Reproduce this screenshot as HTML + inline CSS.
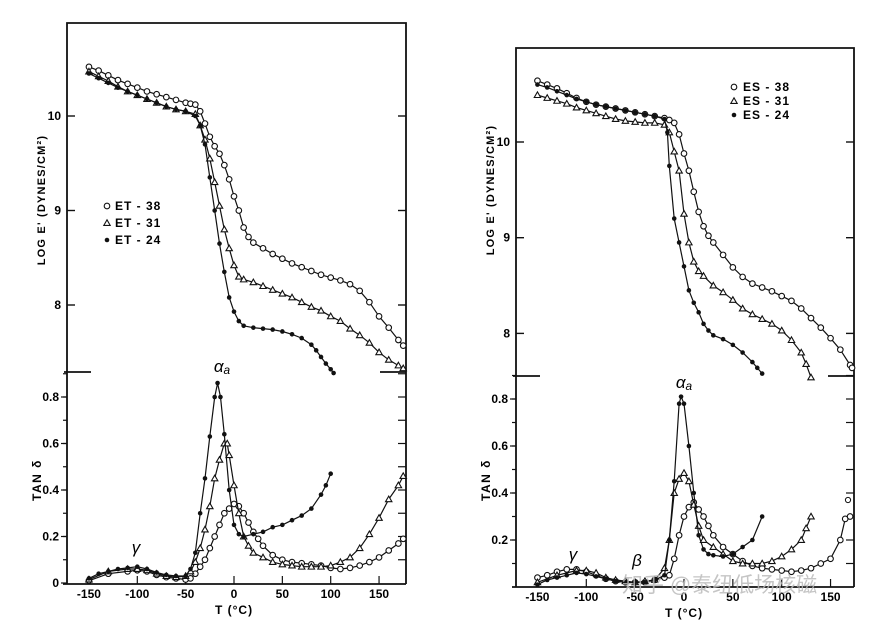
<!DOCTYPE html>
<html><head><meta charset="utf-8"><style>
body{margin:0;background:#fff;}
svg{display:block;font-family:"Liberation Sans","Noto Sans CJK SC",sans-serif;}
</style></head><body>
<svg id="fig" width="880" height="621" viewBox="0 0 880 621" xmlns="http://www.w3.org/2000/svg"></svg>
<script>
// ---------- data ----------
const xTicks=[-150,-100,-50,0,50,100,150];
const logTicks=[10,9,8];
const tanTicksL=[0,0.2,0.4,0.6,0.8];
const tanTicksR=[0.2,0.4,0.6,0.8];

const et38T=[-150,-140,-130,-120,-110,-100,-90,-80,-70,-60,-50,-45,-40,-35,-30,-25,-20,-15,-10,-5,0,5,10,15,20,30,40,50,60,70,80,90,100,110,120,130,140,150,160,170,175];
const et38E=[10.52,10.48,10.43,10.38,10.34,10.3,10.26,10.23,10.2,10.17,10.14,10.13,10.12,10.05,9.92,9.78,9.68,9.6,9.48,9.33,9.15,9.0,8.82,8.72,8.66,8.6,8.54,8.49,8.44,8.4,8.36,8.32,8.29,8.26,8.22,8.15,8.03,7.88,7.76,7.63,7.57];
const et31T=[-150,-140,-130,-120,-110,-100,-90,-80,-70,-60,-50,-40,-35,-30,-25,-20,-15,-10,-5,0,5,10,20,30,40,50,60,70,80,90,100,110,120,130,140,150,160,170,175];
const et31E=[10.47,10.42,10.37,10.31,10.26,10.22,10.18,10.14,10.1,10.07,10.05,10.02,9.9,9.75,9.55,9.3,9.05,8.8,8.6,8.42,8.3,8.27,8.24,8.2,8.16,8.12,8.08,8.03,7.98,7.94,7.88,7.83,7.75,7.68,7.6,7.5,7.42,7.36,7.33];
const et24T=[-150,-140,-130,-120,-110,-100,-90,-80,-70,-60,-50,-40,-35,-30,-25,-20,-15,-10,-5,0,5,10,20,30,40,50,60,70,80,85,90,95,100,103];
const et24E=[10.45,10.4,10.35,10.3,10.26,10.22,10.18,10.14,10.1,10.07,10.05,10.0,9.9,9.7,9.35,9.0,8.65,8.35,8.08,7.93,7.83,7.78,7.76,7.75,7.74,7.72,7.69,7.65,7.58,7.52,7.45,7.38,7.32,7.28];

const et24tT=[-150,-140,-130,-120,-110,-100,-90,-80,-70,-60,-50,-45,-40,-35,-30,-25,-20,-17,-14,-10,-5,0,5,10,20,30,40,50,60,70,80,90,95,100];
const et24tV=[0.02,0.04,0.05,0.06,0.065,0.07,0.06,0.045,0.035,0.03,0.03,0.06,0.13,0.3,0.45,0.63,0.8,0.86,0.8,0.64,0.4,0.25,0.21,0.2,0.21,0.22,0.24,0.25,0.27,0.29,0.32,0.38,0.42,0.47];
const et31tT=[-150,-130,-110,-100,-90,-80,-70,-60,-50,-45,-40,-35,-30,-25,-20,-15,-10,-7,-5,0,5,10,15,20,30,40,50,60,70,80,90,100,110,120,130,140,150,160,170,175];
const et31tV=[0.015,0.05,0.06,0.06,0.055,0.04,0.03,0.025,0.03,0.05,0.09,0.15,0.23,0.33,0.45,0.53,0.6,0.6,0.55,0.42,0.3,0.2,0.16,0.13,0.11,0.09,0.08,0.075,0.07,0.07,0.07,0.075,0.09,0.11,0.15,0.21,0.28,0.36,0.42,0.46];
const et38tT=[-150,-130,-110,-100,-90,-80,-70,-60,-50,-45,-40,-35,-30,-25,-20,-15,-10,-5,0,5,10,15,20,25,30,40,50,60,70,80,90,100,110,120,130,140,150,160,170,175];
const et38tV=[0.01,0.04,0.05,0.055,0.05,0.035,0.025,0.02,0.015,0.02,0.04,0.07,0.1,0.15,0.2,0.25,0.3,0.32,0.34,0.33,0.3,0.26,0.22,0.19,0.16,0.12,0.1,0.09,0.085,0.08,0.075,0.065,0.06,0.065,0.075,0.09,0.11,0.14,0.17,0.19];

const es38T=[-150,-140,-130,-120,-110,-100,-90,-80,-70,-60,-50,-40,-30,-20,-15,-10,-5,0,5,10,15,20,25,30,40,50,60,70,80,90,100,110,120,130,140,150,160,170,172];
const es38E=[10.64,10.6,10.56,10.51,10.46,10.42,10.39,10.37,10.35,10.33,10.31,10.29,10.27,10.25,10.23,10.2,10.08,9.88,9.7,9.48,9.27,9.12,9.02,8.95,8.82,8.69,8.59,8.52,8.48,8.44,8.39,8.34,8.26,8.16,8.06,7.95,7.83,7.67,7.64];
const es31T=[-150,-140,-130,-120,-110,-100,-90,-80,-70,-60,-50,-40,-30,-20,-15,-10,-5,0,5,10,15,20,30,40,50,60,70,80,90,100,110,120,125,130];
const es31E=[10.49,10.46,10.43,10.4,10.36,10.33,10.3,10.27,10.24,10.22,10.21,10.2,10.2,10.18,10.1,9.9,9.7,9.25,8.95,8.75,8.65,8.6,8.5,8.43,8.35,8.26,8.2,8.15,8.1,8.03,7.93,7.8,7.68,7.54];
const es24T=[-150,-140,-130,-120,-110,-100,-90,-80,-70,-60,-50,-40,-30,-20,-17,-15,-10,-5,0,5,10,15,20,25,30,40,50,60,70,75,80];
const es24E=[10.6,10.57,10.53,10.49,10.45,10.42,10.39,10.37,10.35,10.33,10.31,10.29,10.27,10.24,10.1,9.75,9.2,8.95,8.7,8.45,8.32,8.22,8.1,8.03,7.98,7.94,7.88,7.8,7.7,7.64,7.58];

const es24tT=[-150,-140,-130,-120,-110,-100,-90,-80,-70,-60,-50,-40,-30,-20,-15,-10,-5,-3,0,5,10,15,20,25,30,40,50,60,70,80];
const es24tV=[0.01,0.03,0.04,0.05,0.06,0.055,0.045,0.035,0.025,0.02,0.02,0.02,0.03,0.05,0.2,0.45,0.78,0.81,0.78,0.6,0.4,0.22,0.16,0.14,0.135,0.13,0.14,0.17,0.2,0.3];
const es31tT=[-150,-130,-110,-100,-90,-80,-70,-60,-50,-40,-30,-20,-15,-10,-5,0,5,10,15,20,30,40,50,60,70,80,90,100,110,120,125,130];
const es31tV=[0.02,0.05,0.07,0.07,0.06,0.04,0.03,0.025,0.02,0.025,0.03,0.08,0.2,0.4,0.46,0.485,0.45,0.35,0.26,0.2,0.17,0.14,0.11,0.1,0.1,0.1,0.11,0.13,0.16,0.2,0.25,0.3];
const es38tT=[-150,-140,-130,-120,-110,-100,-90,-80,-70,-60,-50,-40,-30,-20,-15,-10,-5,0,5,10,15,20,25,30,40,50,60,70,80,90,100,110,120,130,140,150,160,165,170];
const es38tV=[0.04,0.05,0.065,0.075,0.075,0.065,0.05,0.035,0.025,0.02,0.02,0.02,0.03,0.04,0.05,0.12,0.22,0.3,0.34,0.36,0.33,0.3,0.26,0.22,0.17,0.14,0.11,0.09,0.08,0.075,0.07,0.065,0.07,0.08,0.1,0.12,0.2,0.29,0.3];

// ---------- drawing ----------
const NS="http://www.w3.org/2000/svg";
const svg=document.getElementById('fig');
function mk(tag,attrs,parent){const e=document.createElementNS(NS,tag);for(const k in attrs)e.setAttribute(k,attrs[k]);(parent||svg).appendChild(e);return e;}

const panels=[
 {x0:234,xs:0.967,e10:116,es:94.5,t0:583,ts:232.5,L:67,R:406,top:23,div:372,bot:584,name:'left'},
 {x0:684,xs:0.977,e10:142,es:95.7,t0:587,ts:235,L:516,R:854,top:48,div:376,bot:587,name:'right'}
];
function X(p,t){return p.x0+t*p.xs;}
function YE(p,v){return p.e10+(10-v)*p.es;}
function YT(p,v){return p.t0-v*p.ts;}

function frame(p,tanTicks){
  const g=mk('g',{});
  
  
  const st={stroke:'#111','stroke-width':1.8,fill:'none'};
  mk('path',Object.assign({d:`M${p.L},${p.bot} L${p.L},${p.top} L${p.R},${p.top} L${p.R},${p.bot} M${p.L-4},${p.bot} L${p.R},${p.bot}`},st),g);
  mk('path',Object.assign({d:`M${p.L-3},${p.div} L${p.L+24},${p.div} M${p.R-26},${p.div} L${p.R},${p.div}`},st),g);
  logTicks.forEach(v=>{const y=YE(p,v);
    mk('line',{x1:p.L,x2:p.L+8,y1:y,y2:y,stroke:'#111','stroke-width':1.4},g);
    mk('line',{x1:p.R-8,x2:p.R,y1:y,y2:y,stroke:'#111','stroke-width':1.4},g);
    const t=mk('text',{x:p.L-6,y:y+4,'text-anchor':'end','font-size':12,'font-weight':'bold'},g);t.textContent=v;
    });
  for(let v=0.1;v<0.95;v+=0.1){const y=YT(p,v);
    mk('line',{x1:p.L-4,x2:p.L,y1:y,y2:y,stroke:'#111','stroke-width':1.2},g);
    mk('line',{x1:p.R-8,x2:p.R,y1:y,y2:y,stroke:'#111','stroke-width':1.2},g);}
  tanTicks.forEach(v=>{const y=YT(p,v);
    mk('line',{x1:p.L-6,x2:p.L,y1:y,y2:y,stroke:'#111','stroke-width':1.2},g);
    const t=mk('text',{x:p.L-8,y:y+4,'text-anchor':'end','font-size':12,'font-weight':'bold'},g);t.textContent=v;
    });
  xTicks.forEach(v=>{const x=X(p,v);
    mk('line',{x1:x,x2:x,y1:p.bot-8,y2:p.bot,stroke:'#111','stroke-width':1.2},g);
    const t=mk('text',{x:x,y:p.bot+14,'text-anchor':'middle','font-size':12,'font-weight':'bold'},g);t.textContent=v;
    });
  const xt=mk('text',{x:X(p,0),y:p.bot+30,'text-anchor':'middle','font-size':12,'font-weight':'bold','letter-spacing':1},g);xt.textContent='T (°C)';
  
  const ly=mk('text',{transform:`translate(${p.L-22},${p.name=='left'?200:190}) rotate(-90)`,'text-anchor':'middle','font-size':11,'font-weight':'bold','letter-spacing':1.2},g);
  ly.textContent="LOG E' (DYNES/CM²)";
  
  const ty=mk('text',{transform:`translate(${p.L-26},480) rotate(-90)`,'text-anchor':'middle','font-size':12,'font-weight':'bold','letter-spacing':1.5},g);
  ty.textContent="TAN δ";
  
}
function marker(kind,x,y,g){
  if(kind==='o') return mk('circle',{cx:x,cy:y,r:2.8,fill:'#fff',stroke:'#111','stroke-width':1.1},g);
  if(kind==='t') return mk('path',{d:`M${x},${y-3.2} L${x+3.2},${y+2.4} L${x-3.2},${y+2.4} Z`,fill:'#fff',stroke:'#111','stroke-width':1.1},g);
  return mk('circle',{cx:x,cy:y,r:2.3,fill:'#111'},g);
}
function series(p,T,V,yf,kind,name){
  const g=mk('g',{});
  
  
  const pts=T.map((t,i)=>[X(p,t),yf(p,V[i])]);
  mk('path',{d:'M'+pts.map(q=>q[0].toFixed(1)+','+q[1].toFixed(1)).join(' L'),fill:'none',stroke:'#111','stroke-width':1.2},g);
  pts.forEach(q=>{const m=marker(kind,q[0],q[1],g);
    
    });
}
function label(x,y,txt,size,name,sub){
  const t=mk('text',{x:x,y:y,'font-size':size,'font-style':'italic','text-anchor':'middle'});
  t.textContent=txt;
  if(sub){const s=mk('tspan',{'font-size':size*0.7,dy:2},t);s.textContent=sub;}
  
  
  return t;
}

const P=panels[0],Q=panels[1];
frame(P,tanTicksL);frame(Q,tanTicksR);
series(P,et38T,et38E,YE,'o','et38-modulus');
series(P,et31T,et31E,YE,'t','et31-modulus');
series(P,et24T,et24E,YE,'f','et24-modulus');
series(P,et38tT,et38tV,YT,'o','et38-tan-delta');
series(P,et31tT,et31tV,YT,'t','et31-tan-delta');
series(P,et24tT,et24tV,YT,'f','et24-tan-delta');
series(Q,es38T,es38E,YE,'o','es38-modulus');
series(Q,es31T,es31E,YE,'t','es31-modulus');
series(Q,es24T,es24E,YE,'f','es24-modulus');
series(Q,es38tT,es38tV,YT,'o','es38-tan-delta');
series(Q,es31tT,es31tV,YT,'t','es31-tan-delta');
series(Q,es24tT,es24tV,YT,'f','es24-tan-delta');

// legends
[['o','ET-38'],['t','ET-31'],['f','ET-24']].forEach((l,i)=>{
  const y=206+i*17;const m=marker(l[0],107,y);
  
  const t=mk('text',{x:115,y:y+4,'font-size':12,'font-weight':'bold','letter-spacing':1});t.textContent=l[1].replace('-',' - ');
  });
[['o','ES-38'],['t','ES-31'],['f','ES-24']].forEach((l,i)=>{
  const y=87+i*14;const m=marker(l[0],734,y);
  
  const t=mk('text',{x:743,y:y+4,'font-size':12,'font-weight':'bold','letter-spacing':1});t.textContent=l[1].replace('-',' - ');
  });

label(222,372,'α',17,'alpha-a-label-left','a');
label(136,553,'γ',17,'gamma-label-left');
label(684,388,'α',17,'alpha-a-label-right','a');
label(573,560,'γ',17,'gamma-label-right');
label(637,566,'β',17,'beta-label-right');
const o=mk('circle',{cx:848,cy:500,r:2.6,fill:'#fff',stroke:'#111','stroke-width':1});

const wm=mk('text',{x:622,y:592,'font-size':21,fill:'#bbb','fill-opacity':0.85});
wm.textContent='知乎 @泰纽低场核磁';

</script>
</body></html>
